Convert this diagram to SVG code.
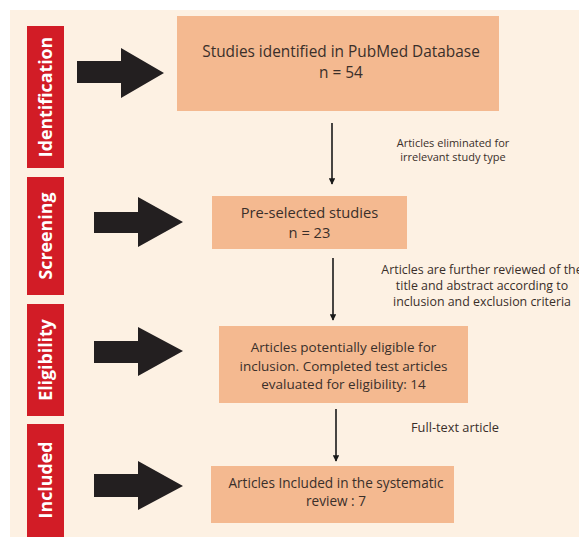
<svg xmlns="http://www.w3.org/2000/svg" width="579" height="537" viewBox="0 0 579 537">
<style>
.bg{fill:#fdf1e3}
.tab{fill:#d21c26}
.tabt{fill:#ffffff;font-family:"Open Sans",sans-serif;font-weight:bold;font-size:17.8px;text-anchor:middle}
.big{fill:#231f20}
.box{fill:#f4b990}
.bt{fill:#3a2f2a;font-family:"Open Sans",sans-serif;text-anchor:middle}
.lbl{fill:#3a2f2a;font-family:"Open Sans",sans-serif;text-anchor:middle}
.con{stroke:#1a1a1a;stroke-width:1.6;fill:none}
</style>
<defs>
<marker id="ah" viewBox="0 0 10 10" refX="9" refY="5" markerWidth="4" markerHeight="4" orient="auto" markerUnits="strokeWidth">
<path d="M0,0 L10,5 L0,10 z" fill="#1a1a1a"/>
</marker>
</defs>
<rect x="0" y="0" width="579" height="537" fill="#ffffff"/>
<rect class="bg" x="10" y="10" width="569" height="527"/>

<g id="tab-identification">
<rect class="tab" x="27" y="26" width="37" height="142"/>
<text class="tabt" transform="translate(51.8,97) rotate(-90)">Identification</text>
</g>
<g id="tab-screening">
<rect class="tab" x="27" y="177" width="37" height="118"/>
<text class="tabt" transform="translate(51.8,236) rotate(-90)">Screening</text>
</g>
<g id="tab-eligibility">
<rect class="tab" x="27" y="304" width="37" height="112"/>
<text class="tabt" transform="translate(51.8,360) rotate(-90)">Eligibility</text>
</g>
<g id="tab-included">
<rect class="tab" x="27" y="424" width="37" height="113"/>
<text class="tabt" transform="translate(51.8,480) rotate(-90)">Included</text>
</g>

<g id="bigarrow-1"><polygon class="big" points="77,61 121,61 121,48 164,73 121,98 121,83 77,83"/></g>
<g id="bigarrow-2"><polygon class="big" points="94,212 138,212 138,197 183,222 138,247 138,233 94,233"/></g>
<g id="bigarrow-3"><polygon class="big" points="94,341 138,341 138,327 183,351 138,376 138,363 94,363"/></g>
<g id="bigarrow-4"><polygon class="big" points="94,474 138,474 138,461 183,486 138,510 138,497 94,497"/></g>

<g id="node-identified">
<rect class="box" x="177" y="16" width="322" height="95"/>
<text class="bt" x="341" y="57" font-size="15.4">Studies identified in PubMed Database</text>
<text class="bt" x="341" y="78" font-size="15.4">n = 54</text>
</g>
<g id="node-preselected">
<rect class="box" x="212" y="196" width="195" height="53"/>
<text class="bt" x="309.5" y="218" font-size="14.7">Pre-selected studies</text>
<text class="bt" x="309.5" y="238" font-size="14.7">n = 23</text>
</g>
<g id="node-eligible">
<rect class="box" x="219" y="326" width="249" height="77"/>
<text class="bt" x="343.5" y="352" font-size="13.5">Articles potentially eligible for</text>
<text class="bt" x="343.5" y="370.5" font-size="13.5">inclusion. Completed test articles</text>
<text class="bt" x="343.5" y="389" font-size="13.5">evaluated for eligibility: 14</text>
</g>
<g id="node-included">
<rect class="box" x="211" y="466" width="243" height="57"/>
<text class="bt" x="336" y="488" font-size="13.6">Articles Included in the systematic</text>
<text class="bt" x="336" y="506" font-size="13.6">review : 7</text>
</g>

<g id="connectors">
<line class="con" x1="332" y1="123" x2="332" y2="184" marker-end="url(#ah)"/>
<line class="con" x1="333" y1="258" x2="333" y2="320" marker-end="url(#ah)"/>
<line class="con" x1="336" y1="409" x2="336" y2="461" marker-end="url(#ah)"/>
</g>

<g id="labels">
<text class="lbl" x="453" y="147" font-size="11">Articles eliminated for</text>
<text class="lbl" x="453" y="161" font-size="11">irrelevant study type</text>
<text class="lbl" x="482" y="273.5" font-size="12.4">Articles are further reviewed of the</text>
<text class="lbl" x="482" y="289.5" font-size="12.4">title and abstract according to</text>
<text class="lbl" x="482" y="305.5" font-size="12.4">inclusion and exclusion criteria</text>
<text class="lbl" x="455" y="431.5" font-size="12.8">Full-text article</text>
</g>
</svg>
